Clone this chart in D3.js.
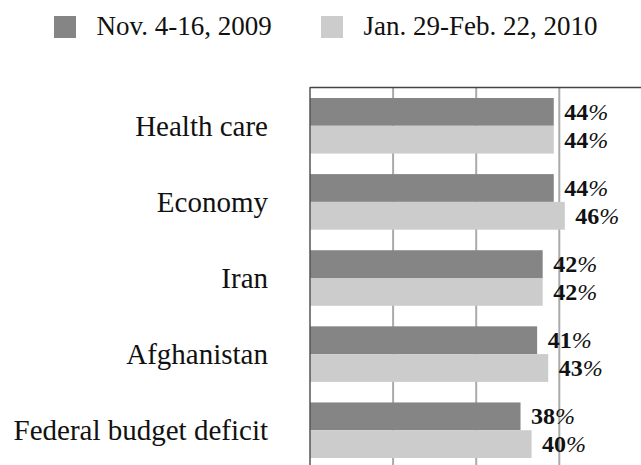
<!DOCTYPE html>
<html lang="en">
<head>
  <meta charset="UTF-8">
  <title>Top issues</title>
  <script src="https://d3js.org/d3.v7.min.js"></script>
  <style>
    body { margin: 0; background: #fff; }
    text { font-family: "Liberation Serif", serif; }
    .cat { font-size: 29px; fill: #111; }
    .legend-label { font-size: 27px; fill: #111; }
    .value { font-size: 24px; font-weight: bold; fill: #111; }
  </style>
</head>
<body>
  <svg width="641" height="465"></svg>

  <script>
    // data
    const categories = ["Health care", "Economy", "Iran", "Afghanistan", "Federal budget deficit"];
    const series = ["Nov. 4-16, 2009", "Jan. 29-Feb. 22, 2010"];
    const nov2009 = [44, 44, 42, 41, 38];
    const jan2010 = [44, 46, 42, 43, 40];
    const gridTicks = [15, 30, 45];

    const colors = ["#858585", "#cccccc"];
    const values = [nov2009, jan2010];
    const serif = "Liberation Serif";

    const svg = d3.select("svg");

    // scales
    const x = d3.scaleLinear()
      .domain([0, 45])
      .range([310, 559.3]);

    const y = d3.scaleBand()
      .domain(categories)
      .range([98, 458])
      .paddingInner(0.27)
      .paddingOuter(0);

    const ySub = d3.scaleBand()
      .domain(series)
      .range([0, y.bandwidth()]);

    const color = d3.scaleOrdinal().domain(series).range(colors);

    // gridlines
    svg.selectAll(".grid")
      .data(gridTicks)
      .enter()
      .append("line")
      .attr("x1", d => x(d))
      .attr("x2", d => x(d))
      .attr("y1", 87)
      .attr("y2", 465)
      .attr("stroke", "#aaaaaa")
      .attr("stroke-width", 2);

    // bars
    series.forEach((s, i) => {
      svg.selectAll(".bar-" + i)
        .data(categories)
        .enter()
        .append("rect")
        .attr("x", x(0))
        .attr("y", d => y(d) + ySub(s))
        .attr("width", (d, j) => x(values[i][j]) - x(0))
        .attr("height", ySub.bandwidth())
        .attr("fill", color(s));

      const lbl = svg.selectAll(".val-" + i)
        .data(categories)
        .enter()
        .append("text")
        .attr("class", "value")
        .attr("font-family", serif)
        .attr("x", (d, j) => x(values[i][j]) + 10.5)
        .attr("y", d => y(d) + ySub(s) + ySub.bandwidth() / 2 + 8);
      lbl.append("tspan").text((d, j) => values[i][j]);
      lbl.append("tspan")
        .attr("font-weight", "normal")
        .attr("font-style", "italic")
        .text("%");
    });

    // frame: top line and left axis
    svg.append("line")
      .attr("x1", x(0)).attr("x2", 641)
      .attr("y1", 87.5).attr("y2", 87.5)
      .attr("stroke", "#444").attr("stroke-width", 1.5);

    svg.append("line")
      .attr("x1", x(0)).attr("x2", x(0))
      .attr("y1", 87).attr("y2", 465)
      .attr("stroke", "#555").attr("stroke-width", 1.5);

    // category labels
    svg.selectAll(".cat")
      .data(categories)
      .enter()
      .append("text")
      .attr("class", "cat")
      .attr("font-family", serif)
      .attr("x", 268)
      .attr("y", d => y(d) + y.bandwidth() / 2 + 10)
      .attr("text-anchor", "end")
      .text(d => d);

    // legend
    const legendX = [54, 321];
    const legend = svg.selectAll(".legend")
      .data(series)
      .enter()
      .append("g")
      .attr("transform", (d, i) => `translate(${legendX[i]},16)`);

    legend.append("rect")
      .attr("width", 22)
      .attr("height", 22)
      .attr("fill", d => color(d));

    legend.append("text")
      .attr("class", "legend-label")
      .attr("font-family", serif)
      .attr("x", 42.5)
      .attr("y", 19)
      .text(d => d);
  </script>
</body>
</html>
